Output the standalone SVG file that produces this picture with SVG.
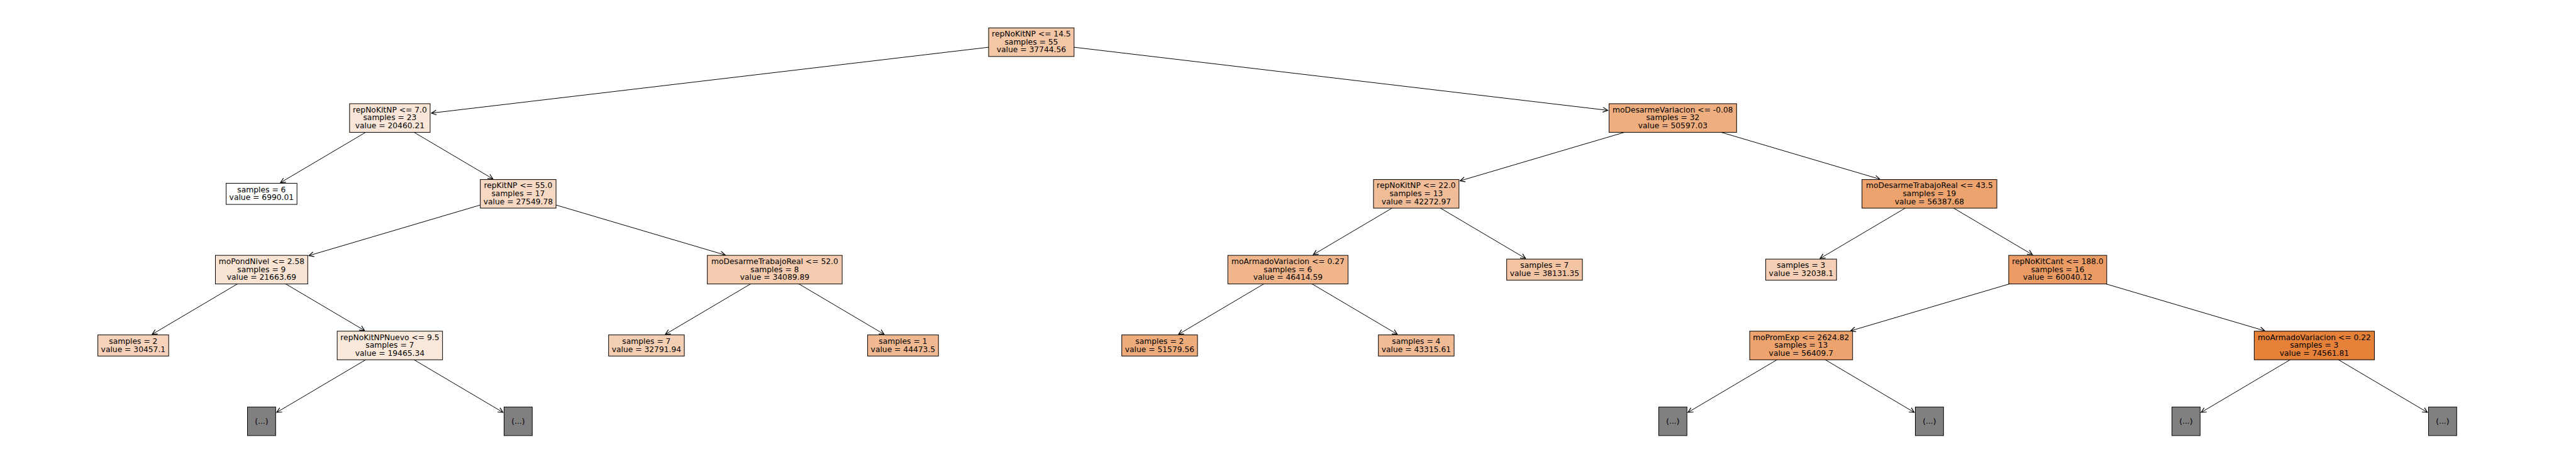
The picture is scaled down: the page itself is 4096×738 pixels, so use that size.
<svg xmlns="http://www.w3.org/2000/svg" width="4096" height="738" viewBox="0 0 4096 738">
<defs>
<marker id="ah" markerUnits="userSpaceOnUse" markerWidth="12" markerHeight="12" viewBox="-8 -5 10 10" refX="0" refY="0" orient="auto" overflow="visible">
<path d="M-6.5,-3.2 L0,0 L-6.5,3.2" fill="none" stroke="#000" stroke-width="1"/>
</marker>
<style>
.box{stroke:#000;stroke-width:1}
.gray{fill:#808080;stroke:#000;stroke-width:1}
text{font-family:"DejaVu Sans",sans-serif;font-size:12.3px;text-anchor:middle;fill:#000}
.edge{stroke:#000;stroke-width:1;fill:none;marker-end:url(#ah)}
</style>
</defs>
<rect width="4096" height="738" fill="#fff"/>
<g id="connectors">
<line class="edge" x1="1639.9" y1="67.1" x2="686.0" y2="179.9"/>
<line class="edge" x1="1639.9" y1="67.1" x2="2556.5" y2="175.5"/>
<line class="edge" x1="619.9" y1="187.7" x2="446.0" y2="290.5"/>
<line class="edge" x1="619.9" y1="187.7" x2="783.7" y2="284.5"/>
<line class="edge" x1="2659.9" y1="187.7" x2="2321.7" y2="287.6"/>
<line class="edge" x1="2659.9" y1="187.7" x2="2989.1" y2="285.0"/>
<line class="edge" x1="823.9" y1="308.3" x2="491.2" y2="406.6"/>
<line class="edge" x1="823.9" y1="308.3" x2="1153.1" y2="405.6"/>
<line class="edge" x1="2251.9" y1="308.3" x2="2088.1" y2="405.1"/>
<line class="edge" x1="2251.9" y1="308.3" x2="2425.8" y2="411.1"/>
<line class="edge" x1="3067.9" y1="308.3" x2="2894.0" y2="411.1"/>
<line class="edge" x1="3067.9" y1="308.3" x2="3231.7" y2="405.1"/>
<line class="edge" x1="415.9" y1="428.9" x2="242.0" y2="531.7"/>
<line class="edge" x1="415.9" y1="428.9" x2="579.7" y2="525.7"/>
<line class="edge" x1="1231.9" y1="428.9" x2="1058.0" y2="531.7"/>
<line class="edge" x1="1231.9" y1="428.9" x2="1405.8" y2="531.7"/>
<line class="edge" x1="2047.9" y1="428.9" x2="1874.0" y2="531.7"/>
<line class="edge" x1="2047.9" y1="428.9" x2="2221.8" y2="531.7"/>
<line class="edge" x1="3271.9" y1="428.9" x2="2942.7" y2="526.2"/>
<line class="edge" x1="3271.9" y1="428.9" x2="3601.1" y2="526.2"/>
<line class="edge" x1="619.9" y1="549.5" x2="440.0" y2="655.9"/>
<line class="edge" x1="619.9" y1="549.5" x2="799.8" y2="655.9"/>
<line class="edge" x1="2863.9" y1="549.5" x2="2684.0" y2="655.9"/>
<line class="edge" x1="2863.9" y1="549.5" x2="3043.8" y2="655.9"/>
<line class="edge" x1="3679.9" y1="549.5" x2="3500.0" y2="655.9"/>
<line class="edge" x1="3679.9" y1="549.5" x2="3859.8" y2="655.9"/>
</g>
<g id="node0"><rect class="box" x="1571.95" y="44.35" width="135.9" height="45.5" fill="#f3c6a5"/><text x="1639.9" y="58.2">repNoKitNP &lt;= 14.5</text><text x="1639.9" y="70.8">samples = 55</text><text x="1639.9" y="83.4">value = 37744.56</text></g>
<g id="node1"><rect class="box" x="555.85" y="164.95" width="128.1" height="45.5" fill="#fae6d8"/><text x="619.9" y="178.8">repNoKitNP &lt;= 7.0</text><text x="619.9" y="191.4">samples = 23</text><text x="619.9" y="204.0">value = 20460.21</text></g>
<g id="node2"><rect class="box" x="2558.5" y="164.95" width="202.8" height="45.5" fill="#eeae7f"/><text x="2659.9" y="178.8">moDesarmeVariacion &lt;= -0.08</text><text x="2659.9" y="191.4">samples = 32</text><text x="2659.9" y="204.0">value = 50597.03</text></g>
<g id="node3"><rect class="box" x="359.6" y="291.5" width="112.6" height="33.6" fill="#ffffff"/><text x="415.9" y="305.7">samples = 6</text><text x="415.9" y="318.3">value = 6990.01</text></g>
<g id="node4"><rect class="box" x="763.7" y="285.55" width="120.4" height="45.5" fill="#f7d9c3"/><text x="823.9" y="299.4">repKitNP &lt;= 55.0</text><text x="823.9" y="312.0">samples = 17</text><text x="823.9" y="324.6">value = 27549.78</text></g>
<g id="node5"><rect class="box" x="2183.95" y="285.55" width="135.9" height="45.5" fill="#f1bd98"/><text x="2251.9" y="299.4">repNoKitNP &lt;= 22.0</text><text x="2251.9" y="312.0">samples = 13</text><text x="2251.9" y="324.6">value = 42272.97</text></g>
<g id="node6"><rect class="box" x="2960.7" y="285.55" width="214.4" height="45.5" fill="#eca36e"/><text x="3067.9" y="299.4">moDesarmeTrabajoReal &lt;= 43.5</text><text x="3067.9" y="312.0">samples = 19</text><text x="3067.9" y="324.6">value = 56387.68</text></g>
<g id="node7"><rect class="box" x="342.5" y="406.15" width="146.8" height="45.5" fill="#f9e4d4"/><text x="415.9" y="420.0">moPondNivel &lt;= 2.58</text><text x="415.9" y="432.6">samples = 9</text><text x="415.9" y="445.2">value = 21663.69</text></g>
<g id="node8"><rect class="box" x="1124.7" y="406.15" width="214.4" height="45.5" fill="#f5ccb0"/><text x="1231.9" y="420.0">moDesarmeTrabajoReal &lt;= 52.0</text><text x="1231.9" y="432.6">samples = 8</text><text x="1231.9" y="445.2">value = 34089.89</text></g>
<g id="node9"><rect class="box" x="1952.35" y="406.15" width="191.1" height="45.5" fill="#f0b58b"/><text x="2047.9" y="420.0">moArmadoVariacion &lt;= 0.27</text><text x="2047.9" y="432.6">samples = 6</text><text x="2047.9" y="445.2">value = 46414.59</text></g>
<g id="node10"><rect class="box" x="2395.7" y="412.1" width="120.4" height="33.6" fill="#f3c5a4"/><text x="2455.9" y="426.3">samples = 7</text><text x="2455.9" y="438.9">value = 38131.35</text></g>
<g id="node11"><rect class="box" x="2807.6" y="412.1" width="112.6" height="33.6" fill="#f5d0b6"/><text x="2863.9" y="426.3">samples = 3</text><text x="2863.9" y="438.9">value = 32038.1</text></g>
<g id="node12"><rect class="box" x="3193.95" y="406.15" width="155.9" height="45.5" fill="#eb9c64"/><text x="3271.9" y="420.0">repNoKitCant &lt;= 188.0</text><text x="3271.9" y="432.6">samples = 16</text><text x="3271.9" y="445.2">value = 60040.12</text></g>
<g id="node13"><rect class="box" x="155.6" y="532.7" width="112.6" height="33.6" fill="#f6d3ba"/><text x="211.9" y="546.9">samples = 2</text><text x="211.9" y="559.5">value = 30457.1</text></g>
<g id="node14"><rect class="box" x="536.15" y="526.75" width="167.5" height="45.5" fill="#fae8da"/><text x="619.9" y="540.6">repNoKitNPNuevo &lt;= 9.5</text><text x="619.9" y="553.2">samples = 7</text><text x="619.9" y="565.8">value = 19465.34</text></g>
<g id="node15"><rect class="box" x="967.7" y="532.7" width="120.4" height="33.6" fill="#f5cfb3"/><text x="1027.9" y="546.9">samples = 7</text><text x="1027.9" y="559.5">value = 32791.94</text></g>
<g id="node16"><rect class="box" x="1379.6" y="532.7" width="112.6" height="33.6" fill="#f1b991"/><text x="1435.9" y="546.9">samples = 1</text><text x="1435.9" y="559.5">value = 44473.5</text></g>
<g id="node17"><rect class="box" x="1783.7" y="532.7" width="120.4" height="33.6" fill="#eeac7c"/><text x="1843.9" y="546.9">samples = 2</text><text x="1843.9" y="559.5">value = 51579.56</text></g>
<g id="node18"><rect class="box" x="2191.7" y="532.7" width="120.4" height="33.6" fill="#f1bb95"/><text x="2251.9" y="546.9">samples = 4</text><text x="2251.9" y="559.5">value = 43315.61</text></g>
<g id="node19"><rect class="box" x="2782.1" y="526.75" width="163.6" height="45.5" fill="#eca36e"/><text x="2863.9" y="540.6">moPromExp &lt;= 2624.82</text><text x="2863.9" y="553.2">samples = 13</text><text x="2863.9" y="565.8">value = 56409.7</text></g>
<g id="node20"><rect class="box" x="3584.35" y="526.75" width="191.1" height="45.5" fill="#e58139"/><text x="3679.9" y="540.6">moArmadoVariacion &lt;= 0.22</text><text x="3679.9" y="553.2">samples = 3</text><text x="3679.9" y="565.8">value = 74561.81</text></g>
<g id="trunc1"><rect class="gray" x="393.5" y="647.35" width="44.8" height="45.5"/><text x="415.9" y="673.8">(...)</text></g>
<g id="trunc2"><rect class="gray" x="801.5" y="647.35" width="44.8" height="45.5"/><text x="823.9" y="673.8">(...)</text></g>
<g id="trunc3"><rect class="gray" x="2637.5" y="647.35" width="44.8" height="45.5"/><text x="2659.9" y="673.8">(...)</text></g>
<g id="trunc4"><rect class="gray" x="3045.5" y="647.35" width="44.8" height="45.5"/><text x="3067.9" y="673.8">(...)</text></g>
<g id="trunc5"><rect class="gray" x="3453.5" y="647.35" width="44.8" height="45.5"/><text x="3475.9" y="673.8">(...)</text></g>
<g id="trunc6"><rect class="gray" x="3861.5" y="647.35" width="44.8" height="45.5"/><text x="3883.9" y="673.8">(...)</text></g>
</svg>
